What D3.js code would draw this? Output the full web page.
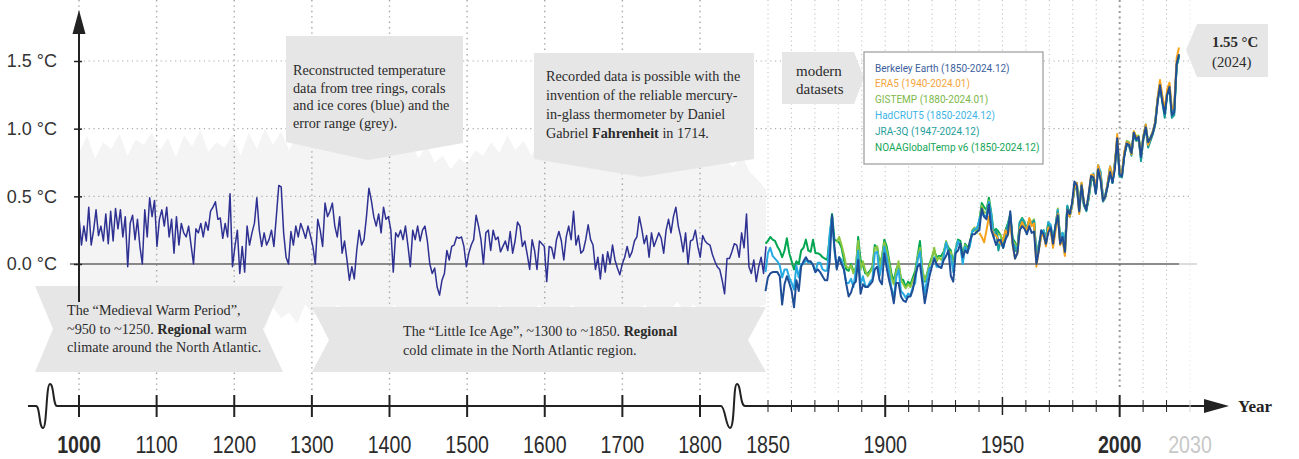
<!DOCTYPE html>
<html>
<head>
<meta charset="utf-8">
<script src="https://cdn.jsdelivr.net/npm/d3@7"></script>
<style>
  body { margin: 0; background: #fff; }
  svg { display: block; }
</style>
</head>
<body>
<div id="chart"></div>
<script>
// Reconstruction 1000-1850 (evenly spaced, ~3 yr), °C
const reconValues = [
  0.35, 0.14, 0.28, 0.17, 0.42, 0.14, 0.25, 0.40, 0.21, 0.28,
  0.17, 0.37, 0.15, 0.39, 0.17, 0.41, 0.26, 0.40, 0.20, 0.35,
  -0.02, 0.30, 0.36, 0.18, 0.33, 0.13, 0.00, 0.40, 0.20, 0.49,
  0.35, 0.47, 0.13, 0.33, 0.40, 0.28, 0.42, 0.20, 0.33, 0.08,
  0.35, 0.14, 0.30, 0.23, 0.20, 0.28, 0.14, 0.00, 0.26, 0.23,
  0.30, 0.20, 0.31, 0.25, 0.39, 0.42, 0.46, 0.33, 0.34, 0.19,
  0.30, 0.20, 0.52, -0.02, 0.13, 0.25, -0.07, 0.13, -0.06, 0.28,
  0.14, 0.23, 0.30, 0.49, 0.25, 0.13, 0.23, 0.14, 0.18, 0.25,
  0.13, 0.35, 0.58, 0.57, 0.23, 0.05, 0.00, 0.24, 0.14, 0.28,
  0.20, 0.30, 0.25, 0.19, 0.28, 0.21, 0.13, 0.00, 0.33, 0.25,
  0.13, 0.45, 0.35, 0.39, 0.45, 0.28, 0.20, 0.35, 0.08, 0.17,
  0.03, -0.12, -0.02, -0.11, 0.10, 0.25, 0.14, 0.18, 0.35, 0.56,
  0.47, 0.35, 0.28, 0.37, 0.23, 0.42, 0.33, 0.35, 0.25, -0.06,
  0.23, 0.20, 0.25, 0.18, 0.28, 0.14, -0.02, 0.25, 0.18, 0.28,
  0.17, 0.25, 0.28,
  0.17, 0.00, -0.07, -0.03, -0.17, -0.23, -0.12, -0.07, 0.10, 0.03,
  0.13, 0.14, 0.20, 0.19, 0.20, 0.13, -0.02, 0.08, 0.14, 0.18,
  0.36, 0.28, 0.18, 0.00, 0.23, 0.25, 0.10, 0.25, 0.18, 0.20,
  0.09, 0.13, 0.17, 0.10, 0.24, 0.08, 0.17, 0.31, 0.28, 0.13,
  0.17, 0.07, -0.04, 0.18, 0.10, -0.04, 0.17, 0.15, 0.13, -0.13,
  0.13, 0.12, 0.04, 0.18, 0.24, 0.17, 0.03, 0.20, 0.28, 0.18,
  0.39, 0.14, 0.21, 0.08, 0.10, 0.18, 0.29, 0.18, 0.14, -0.04,
  0.05, -0.11, 0.07, -0.06, 0.09, 0.00, 0.14, 0.03, -0.03, -0.08,
  0.00, 0.05, 0.13, 0.05, 0.09, 0.17, 0.20, 0.35, 0.26, 0.15,
  0.21, 0.05, 0.23, 0.13, 0.18, 0.23, 0.19, 0.08, 0.25, 0.33,
  0.23, 0.35, 0.42, 0.28, 0.20, 0.09, 0.23, 0.00, 0.17, 0.18,
  0.25, 0.13, 0.05, 0.21, 0.17, 0.15, 0.14, 0.07, 0.02, -0.02,
  -0.04, -0.12, -0.22, 0.04, 0.04, 0.09, 0.15, 0.14, 0.05, 0.23,
  0.12, 0.37, -0.02, -0.07, 0.03, -0.13, -0.02, 0.05, -0.07, 0.13
];

// error range, every 10 years 1000-1850
const bandUpper = [
  0.82, 0.95, 0.78, 0.90, 0.85, 0.96, 0.80, 0.92, 0.88, 0.97,
  0.84, 0.93, 0.79, 0.95, 0.87, 0.99, 0.83, 0.90, 0.86, 0.95,
  0.80, 0.97, 0.85, 1.00, 0.88, 0.98, 0.84, 0.96, 0.90, 0.99,
  0.86, 0.94, 0.82, 0.97, 0.85, 0.93, 0.80, 0.91, 0.84, 0.89,
  0.83, 0.92, 0.78, 0.88, 0.75, 0.80, 0.70, 0.78, 0.74, 0.84,
  0.80, 0.90, 0.82, 0.95, 0.84, 0.91, 0.80, 0.93, 0.85, 0.88,
  0.82, 0.90, 0.78, 0.93, 0.85, 0.92, 0.80, 0.88, 0.84, 0.95,
  0.86, 0.93, 0.82, 0.96, 0.88, 0.92, 0.85, 0.94, 0.80, 0.90,
  0.76, 0.72, 0.80, 0.68, 0.62, 0.55
];
const bandLower = [
  -0.35, -0.28, -0.42, -0.30, -0.38, -0.25, -0.40, -0.32, -0.36, -0.28,
  -0.40, -0.30, -0.35, -0.45, -0.30, -0.38, -0.28, -0.42, -0.33, -0.36,
  -0.30, -0.42, -0.35, -0.48, -0.32, -0.40, -0.36, -0.44, -0.30, -0.38,
  -0.35, -0.42, -0.30, -0.38, -0.45, -0.33, -0.40, -0.36, -0.42, -0.30,
  -0.38, -0.45, -0.40, -0.50, -0.55, -0.48, -0.52, -0.45, -0.40, -0.36,
  -0.34, -0.40, -0.30, -0.38, -0.33, -0.42, -0.35, -0.30, -0.38, -0.32,
  -0.36, -0.30, -0.42, -0.35, -0.40, -0.32, -0.38, -0.44, -0.33, -0.36,
  -0.30, -0.38, -0.32, -0.36, -0.28, -0.35, -0.30, -0.34, -0.38, -0.42,
  -0.45, -0.40, -0.38, -0.36, -0.32, -0.30
];

// modern datasets, annual, °C
const berkeley = [ // 1850-2024
  -0.20, -0.10, -0.07, -0.06, -0.06, -0.06, -0.09, -0.30, -0.15, -0.09,
  -0.14, -0.20, -0.32, -0.12, -0.20, -0.02, 0.02, 0.05, 0.02, 0.02,
  -0.01, -0.06, -0.04, -0.06, -0.09, -0.12, -0.12, 0.02, 0.36, 0.13,
  -0.04, 0.05, 0.00, -0.04, -0.15, -0.24, -0.21, -0.15, -0.13, 0.03,
  -0.22, -0.15, -0.17, -0.17, -0.15, -0.13, -0.04, -0.02, -0.12, -0.15,
  0.08, -0.03, -0.12, -0.19, -0.29, -0.14, -0.14, -0.24, -0.27, -0.28,
  -0.24, -0.24, -0.19, -0.09, -0.02, 0.00, -0.14, -0.29, -0.19, -0.09,
  -0.02, 0.04, 0.00, -0.02, -0.03, 0.03, 0.06, 0.10, -0.09, -0.13,
  0.08, 0.10, 0.15, 0.05, 0.10, 0.08, 0.17, 0.22, 0.22, 0.24,
  0.25, 0.41, 0.35, 0.33, 0.44, 0.25, 0.20, 0.14, 0.18, 0.17,
  0.12, 0.18, 0.22, 0.39, 0.15, 0.04, 0.08, 0.25, 0.28, 0.26,
  0.22, 0.28, 0.23, 0.24, 0.00, 0.10, 0.25, 0.22, 0.15, 0.23,
  0.27, 0.15, 0.28, 0.36, 0.15, 0.20, 0.09, 0.40, 0.37, 0.45,
  0.61, 0.58, 0.39, 0.58, 0.45, 0.40, 0.52, 0.65, 0.64, 0.52,
  0.70, 0.62, 0.47, 0.50, 0.58, 0.68, 0.60, 0.70, 0.93, 0.66,
  0.65, 0.80, 0.89, 0.88, 0.82, 0.97, 0.92, 0.94, 0.79, 0.93,
  1.01, 0.90, 0.93, 0.97, 1.04, 1.20, 1.32, 1.20, 1.11, 1.25,
  1.31, 1.10, 1.12, 1.48, 1.55
];
const era5 = [ // 1940-2024
  0.23, 0.20, 0.16, 0.25, 0.35, 0.26, 0.22, 0.21, 0.18, 0.15,
  0.18, 0.25, 0.21, 0.30, 0.14, 0.04, 0.08, 0.26, 0.31, 0.27,
  0.25, 0.34, 0.28, 0.30, -0.02, 0.10, 0.20, 0.22, 0.13, 0.27,
  0.25, 0.12, 0.24, 0.37, 0.14, 0.18, 0.06, 0.40, 0.35, 0.44,
  0.56, 0.60, 0.37, 0.60, 0.45, 0.41, 0.51, 0.66, 0.66, 0.55,
  0.73, 0.64, 0.47, 0.50, 0.60, 0.72, 0.62, 0.74, 0.96, 0.68,
  0.67, 0.83, 0.90, 0.89, 0.81, 0.98, 0.94, 0.93, 0.80, 0.94,
  1.03, 0.88, 0.93, 0.98, 1.05, 1.23, 1.36, 1.24, 1.14, 1.29,
  1.34, 1.14, 1.17, 1.52, 1.60
];
const gistemp = [ // 1880-2024
  0.16, 0.20, 0.14, 0.07, -0.02, -0.03, -0.01, -0.07, -0.02, 0.17,
  -0.04, 0.02, -0.05, -0.09, -0.06, -0.03, 0.12, 0.13, -0.03, 0.06,
  0.16, 0.10, 0.01, -0.10, -0.15, -0.06, 0.02, -0.12, -0.15, -0.18,
  -0.15, -0.17, -0.12, -0.08, 0.05, 0.12, -0.04, -0.12, -0.08, -0.01,
  0.04, 0.12, 0.02, 0.05, 0.03, 0.07, 0.17, 0.09, 0.09, -0.04,
  0.11, 0.16, 0.14, 0.02, 0.14, 0.10, 0.15, 0.25, 0.27, 0.23,
  0.30, 0.43, 0.38, 0.38, 0.47, 0.34, 0.23, 0.24, 0.22, 0.21,
  0.14, 0.23, 0.29, 0.36, 0.17, 0.15, 0.11, 0.30, 0.33, 0.30,
  0.25, 0.32, 0.31, 0.33, 0.06, 0.14, 0.21, 0.24, 0.18, 0.31,
  0.27, 0.16, 0.27, 0.41, 0.17, 0.22, 0.12, 0.43, 0.35, 0.43,
  0.56, 0.60, 0.41, 0.60, 0.44, 0.41, 0.49, 0.62, 0.66, 0.54,
  0.72, 0.68, 0.48, 0.50, 0.59, 0.72, 0.61, 0.74, 0.91, 0.68,
  0.67, 0.82, 0.91, 0.90, 0.84, 0.98, 0.94, 0.95, 0.82, 0.95,
  1.03, 0.90, 0.94, 0.98, 1.05, 1.22, 1.33, 1.23, 1.13, 1.27,
  1.31, 1.14, 1.16, 1.47, 1.55
];
const hadcrut5 = [ // 1850-2024
  -0.06, 0.08, 0.12, 0.06, 0.04, 0.02, -0.01, -0.10, -0.04, -0.04,
  -0.10, -0.14, -0.19, -0.01, -0.10, 0.00, 0.00, 0.03, 0.01, 0.01,
  0.00, -0.06, 0.01, 0.01, -0.04, -0.05, -0.05, 0.22, 0.35, 0.10,
  -0.03, 0.05, 0.03, -0.04, -0.14, -0.14, -0.11, -0.17, -0.05, 0.10,
  -0.15, -0.09, -0.16, -0.17, -0.13, -0.11, 0.08, 0.09, -0.09, 0.00,
  0.13, 0.05, -0.06, -0.18, -0.25, -0.10, -0.04, -0.20, -0.22, -0.25,
  -0.22, -0.23, -0.17, -0.14, 0.03, 0.09, -0.10, -0.22, -0.11, -0.03,
  -0.02, 0.05, -0.02, -0.02, -0.02, 0.06, 0.16, 0.08, 0.06, -0.06,
  0.10, 0.17, 0.13, 0.00, 0.13, 0.09, 0.13, 0.24, 0.26, 0.26,
  0.33, 0.38, 0.35, 0.36, 0.46, 0.36, 0.20, 0.24, 0.18, 0.17,
  0.12, 0.21, 0.28, 0.35, 0.16, 0.13, 0.09, 0.31, 0.33, 0.30,
  0.24, 0.33, 0.30, 0.32, 0.05, 0.14, 0.21, 0.25, 0.18, 0.31,
  0.29, 0.17, 0.27, 0.40, 0.17, 0.23, 0.12, 0.43, 0.35, 0.43,
  0.56, 0.60, 0.41, 0.59, 0.44, 0.40, 0.49, 0.63, 0.67, 0.54,
  0.73, 0.68, 0.49, 0.51, 0.60, 0.72, 0.61, 0.75, 0.91, 0.67,
  0.67, 0.82, 0.90, 0.89, 0.81, 0.97, 0.93, 0.93, 0.80, 0.94,
  1.03, 0.89, 0.93, 0.98, 1.05, 1.22, 1.33, 1.21, 1.11, 1.26,
  1.30, 1.12, 1.14, 1.47, 1.53
];
const jra3q = [ // 1947-2024
  0.25, 0.10, 0.18,
  0.12, 0.24, 0.29, 0.35, 0.16, 0.10, 0.09, 0.30, 0.33, 0.29,
  0.24, 0.33, 0.29, 0.32, 0.02, 0.11, 0.21, 0.23, 0.14, 0.29,
  0.26, 0.14, 0.26, 0.38, 0.15, 0.20, 0.07, 0.42, 0.35, 0.43,
  0.57, 0.57, 0.38, 0.58, 0.44, 0.39, 0.50, 0.64, 0.64, 0.52,
  0.71, 0.63, 0.46, 0.49, 0.58, 0.70, 0.60, 0.72, 0.93, 0.65,
  0.64, 0.80, 0.88, 0.87, 0.80, 0.96, 0.91, 0.93, 0.76, 0.92,
  1.00, 0.86, 0.91, 0.96, 1.03, 1.20, 1.33, 1.19, 1.08, 1.25,
  1.29, 1.08, 1.10, 1.46, 1.54
];
const noaa = [ // 1850-2024
  0.15, 0.17, 0.20, 0.18, 0.17, 0.13, 0.10, 0.05, 0.10, 0.19,
  0.08, 0.02, -0.04, 0.02, 0.00, 0.10, 0.12, 0.18, 0.10, 0.09,
  0.18, 0.08, 0.08, 0.07, 0.05, 0.04, 0.03, 0.20, 0.37, 0.18,
  0.17, 0.16, 0.12, 0.03, -0.04, -0.05, 0.00, -0.05, -0.05, 0.20,
  0.03, -0.01, -0.07, -0.07, -0.05, -0.02, 0.14, 0.12, 0.01, 0.05,
  0.18, 0.13, 0.03, -0.07, -0.13, -0.04, 0.00, -0.11, -0.12, -0.17,
  -0.13, -0.15, -0.10, -0.05, 0.06, 0.17, -0.05, -0.13, -0.07, 0.00,
  0.05, 0.10, 0.05, 0.06, 0.06, 0.09, 0.16, 0.12, 0.10, 0.00,
  0.11, 0.18, 0.17, 0.06, 0.15, 0.12, 0.15, 0.24, 0.25, 0.26,
  0.32, 0.45, 0.42, 0.40, 0.49, 0.38, 0.24, 0.26, 0.24, 0.21,
  0.16, 0.25, 0.30, 0.37, 0.19, 0.16, 0.12, 0.31, 0.34, 0.31,
  0.26, 0.32, 0.30, 0.32, 0.05, 0.14, 0.22, 0.25, 0.19, 0.30,
  0.28, 0.18, 0.28, 0.40, 0.19, 0.23, 0.13, 0.43, 0.37, 0.44,
  0.55, 0.58, 0.42, 0.59, 0.43, 0.40, 0.48, 0.61, 0.64, 0.53,
  0.71, 0.67, 0.49, 0.51, 0.58, 0.70, 0.60, 0.74, 0.91, 0.66,
  0.66, 0.81, 0.89, 0.89, 0.82, 0.96, 0.92, 0.91, 0.81, 0.93,
  1.02, 0.88, 0.92, 0.97, 1.04, 1.21, 1.31, 1.21, 1.12, 1.25,
  1.29, 1.13, 1.14, 1.46, 1.54
];

const legendNames = ['Berkeley Earth (1850-2024.12)', 'ERA5 (1940-2024.01)', 'GISTEMP (1880-2024.01)',
  'HadCRUT5 (1850-2024.12)', 'JRA-3Q (1947-2024.12)', 'NOAAGlobalTemp v6 (1850-2024.12)'];
const legendColors = ['#3d5f9e', '#f6a43c', '#7cb84a', '#3db5e6', '#1f9e9c', '#14a557'];

const yTicks = [0, 0.5, 1.0, 1.5];
const centuryTicks = [1000, 1100, 1200, 1300, 1400, 1500, 1600, 1700, 1800];
const decadeTicks = [1850, 1860, 1870, 1880, 1890, 1900, 1910, 1920, 1930, 1940, 1950,
  1960, 1970, 1980, 1990, 2000, 2010, 2020, 2030];
const yearLabels = [1000, 1100, 1200, 1300, 1400, 1500, 1600, 1700, 1800, 1850, 1900, 1950, 2000, 2030];

const width = 1299;
const height = 459;

function renderChart() {
    const serif = "'Liberation Serif', 'Times New Roman', serif";
    const sans = "'Liberation Sans', Arial, sans-serif";

    let y = d3.scaleLinear().domain([0, 1.5]).range([264, 61]);
    // axis positions (broken axis: two different year scales)
    let xAxisScale = d3.scaleLinear()
        .domain([1000, 1800, 1850, 2030])
        .range([79, 700, 768, 1190]);
    let xRecon = d3.scaleLinear().domain([1000, 1850]).range([79, 766]);
    let xModern = d3.scaleLinear().domain([1850, 2024]).range([765.5, 1179]);

    const svg = d3.select('#chart')
        .append('svg')
        .attr('width', width)
        .attr('height', height);

    // grey error range
    let band = bandUpper.map((u, i) => ({ year: 1000 + i * 10, hi: u, lo: bandLower[i] }));
    svg.append('path')
        .datum(band)
        .attr('fill', '#f4f4f4')
        .attr('d', d3.area()
            .x(d => xRecon(d.year))
            .y0(d => y(d.lo))
            .y1(d => y(d.hi)));

    // vertical grid
    svg.selectAll('.vgridOld')
        .data(centuryTicks).enter()
        .append('line')
        .attr('x1', d => xAxisScale(d)).attr('x2', d => xAxisScale(d))
        .attr('y1', 0).attr('y2', 393)
        .attr('stroke', '#a5a5a5')
        .attr('stroke-width', 1.4)
        .attr('stroke-dasharray', '1.4,4');

    svg.selectAll('.vgridNew')
        .data(decadeTicks).enter()
        .append('line')
        .attr('x1', d => xAxisScale(d)).attr('x2', d => xAxisScale(d))
        .attr('y1', 0).attr('y2', d => d === 2000 ? 390 : 393)
        .attr('stroke', d => d === 2000 ? '#9a9a9a' : (d === 2030 ? '#e4e4e4' : '#b8b8b8'))
        .attr('stroke-width', d => d === 2000 ? 2 : 1)
        .attr('stroke-dasharray', d => d === 2000 ? '2,3.5' : '1,3.5');

    // horizontal grid
    svg.selectAll('.hgrid')
        .data(yTicks.filter(d => d > 0)).enter()
        .append('line')
        .attr('x1', 79).attr('x2', 1190)
        .attr('y1', d => y(d)).attr('y2', d => y(d))
        .attr('stroke', '#ababab')
        .attr('stroke-width', 1.2)
        .attr('stroke-dasharray', '1.2,3.6');

    // zero line
    svg.append('line')
        .attr('x1', 70).attr('x2', 1179)
        .attr('y1', y(0)).attr('y2', y(0))
        .attr('stroke', '#666').attr('stroke-width', 1.5);
    svg.append('line')
        .attr('x1', 1179).attr('x2', 1197)
        .attr('y1', y(0)).attr('y2', y(0))
        .attr('stroke', '#d0d0d0').attr('stroke-width', 1.5);

    // callout shapes
    let callouts = [
        [[286, 36], [463, 36], [463, 143], [368, 160], [286, 142]],
        [[534, 53], [754, 53], [754, 159], [642, 177], [534, 159]],
        [[782, 52], [854, 52], [864, 78], [854, 104], [782, 104]],
        [[1197, 24], [1268, 24], [1268, 77], [1197, 77], [1186, 50]],
        [[35, 286], [283, 286], [263, 329], [283, 372], [35, 372], [53, 329]],
        [[312, 307], [766, 307], [748, 340], [766, 372], [312, 372], [329, 340]]
    ];
    svg.selectAll('.callout')
        .data(callouts).enter()
        .append('path')
        .attr('d', d => 'M' + d.join('L') + 'Z')
        .attr('fill', '#e6e6e6');

    // callout texts
    let notes = [
        { x: 293, y: 75, dy: 17.6, size: 14.2, lines: [
            [['Reconstructed temperature']],
            [['data from tree rings, corals']],
            [['and ice cores (blue) and the']],
            [['error range (grey).']]] },
        { x: 546, y: 80.5, dy: 19, size: 14.2, lines: [
            [['Recorded data is possible with the']],
            [['invention of the reliable mercury-']],
            [['in-glass thermometer by Daniel']],
            [['Gabriel '], ['Fahrenheit', true], [' in 1714.']]] },
        { x: 796, y: 75.5, dy: 18.7, size: 15, lines: [
            [['modern']],
            [['datasets']]] },
        { x: 1212, y: 47, dy: 20, size: 14.8, lines: [
            [['1.55 °C', true]],
            [['(2024)']]] },
        { x: 67, y: 315, dy: 18.7, size: 14.2, lines: [
            [['The “Medieval Warm Period”,']],
            [['~950 to ~1250. '], ['Regional', true], [' warm']],
            [['climate around the North Atlantic.']]] },
        { x: 403, y: 335.5, dy: 19, size: 14.2, lines: [
            [['The “Little Ice Age”, ~1300 to ~1850. '], ['Regional', true]],
            [['cold climate in the North Atlantic region.']]] }
    ];
    notes.forEach(n => {
        let t = svg.append('text')
            .attr('font-family', serif)
            .attr('font-size', n.size)
            .attr('fill', '#2b2b2b');
        n.lines.forEach((line, i) => {
            line.forEach((seg, j) => {
                let ts = t.append('tspan').text(seg[0]);
                if (j === 0) ts.attr('x', n.x).attr('y', n.y + i * n.dy);
                if (seg[1]) ts.attr('font-weight', 'bold');
            });
        });
    });

    // reconstruction line
    let recon = reconValues.map((v, i) => ({ year: 1000 + i * 850 / (reconValues.length - 1), value: v }));
    svg.append('path')
        .datum(recon)
        .attr('fill', 'none')
        .attr('stroke', '#2e3192')
        .attr('stroke-width', 1.5)
        .attr('stroke-linejoin', 'round')
        .attr('d', d3.line().x(d => xRecon(d.year)).y(d => y(d.value)));

    // modern datasets (drawing order: bottom to top)
    let series = [
        { values: noaa, start: 1850, color: '#00a651' },
        { values: gistemp, start: 1880, color: '#8cc63f' },
        { values: hadcrut5, start: 1850, color: '#27aae1' },
        { values: jra3q, start: 1947, color: '#179c9a' },
        { values: era5, start: 1940, color: '#f7a21b' },
        { values: berkeley, start: 1850, color: '#1f4e96' }
    ];
    series.forEach(s => {
        svg.append('path')
            .datum(s.values.map((v, i) => ({ year: s.start + i, value: v })))
            .attr('fill', 'none')
            .attr('stroke', s.color)
            .attr('stroke-width', 2)
            .attr('stroke-linejoin', 'round')
            .attr('d', d3.line().x(d => xModern(d.year)).y(d => y(d.value)));
    });

    // legend
    svg.append('rect')
        .attr('x', 864).attr('y', 52)
        .attr('width', 179).attr('height', 112)
        .attr('fill', '#fff')
        .attr('stroke', '#9a9a9a')
        .attr('stroke-width', 1.2);
    svg.selectAll('.legendText')
        .data(legendNames).enter()
        .append('text')
        .attr('x', 875)
        .attr('y', (d, i) => 71.5 + i * 15.8)
        .attr('font-family', "Roboto, 'Liberation Sans', sans-serif")
        .attr('font-size', 10)
        .attr('fill', (d, i) => legendColors[i])
        .text(d => d);

    // y axis
    svg.append('line')
        .attr('x1', 79).attr('x2', 79)
        .attr('y1', 30).attr('y2', 302)
        .attr('stroke', '#222').attr('stroke-width', 2);
    svg.append('path')
        .attr('d', 'M79,10L72.5,34L85.5,34Z')
        .attr('fill', '#222');
    let yAxis = (g) => g
        .attr('transform', 'translate(82,0)')
        .call(d3.axisLeft(y).tickValues(yTicks).tickSize(8).tickPadding(17)
            .tickFormat(d => d3.format('.1f')(d) + ' °C'));
    let yg = svg.append('g').call(yAxis);
    yg.select('.domain').remove();
    yg.selectAll('line').attr('stroke', '#222').attr('stroke-width', 1.5);
    yg.selectAll('text')
        .attr('font-family', sans)
        .attr('font-size', 18)
        .attr('fill', '#333');

    // x axis with breaks
    let axisY = 406;
    let xPath = 'M28,406L36,406C40,406 39,428 43,428C47,428 46,384 50,384C54,384 53,406 57,406'
        + 'L721,406C725,406 726,428 730,428C735,428 733,384 737,384C741,384 740,406 745,406'
        + 'L1207,406';
    svg.append('path')
        .attr('d', xPath)
        .attr('fill', 'none')
        .attr('stroke', '#222')
        .attr('stroke-width', 2);
    svg.append('path')
        .attr('d', 'M1204,399L1229,406L1204,413Z')
        .attr('fill', '#222');
    svg.append('text')
        .attr('x', 1238).attr('y', 412)
        .attr('font-family', serif)
        .attr('font-weight', 'bold')
        .attr('font-size', 17)
        .attr('fill', '#222')
        .text('Year');

    let tickLen = d => (centuryTicks.includes(d) || d === 1900 || d === 2000) ? 11 : (d === 1950 ? 9 : 6);
    svg.selectAll('.xtick')
        .data(centuryTicks.concat(decadeTicks)).enter()
        .append('line')
        .attr('x1', d => xAxisScale(d)).attr('x2', d => xAxisScale(d))
        .attr('y1', d => axisY - tickLen(d)).attr('y2', d => axisY + tickLen(d))
        .attr('stroke', d => d === 2030 ? '#d5d5d5' : '#222')
        .attr('stroke-width', d => tickLen(d) === 11 ? 2 : (d === 1950 ? 1.5 : 1));

    // year labels: condensed look by horizontal scaling
    svg.selectAll('.xlabel')
        .data(yearLabels).enter()
        .append('text')
        .attr('transform', d => `translate(${xAxisScale(d)},453) scale(0.8,1)`)
        .attr('text-anchor', 'middle')
        .attr('font-family', sans)
        .attr('font-size', 24.5)
        .attr('font-weight', d => (d === 1000 || d === 2000) ? 'bold' : 'normal')
        .attr('fill', d => d === 2030 ? '#c8c8c8' : '#2b2b2b')
        .text(d => d);
}

renderChart();
</script>
</body>
</html>
